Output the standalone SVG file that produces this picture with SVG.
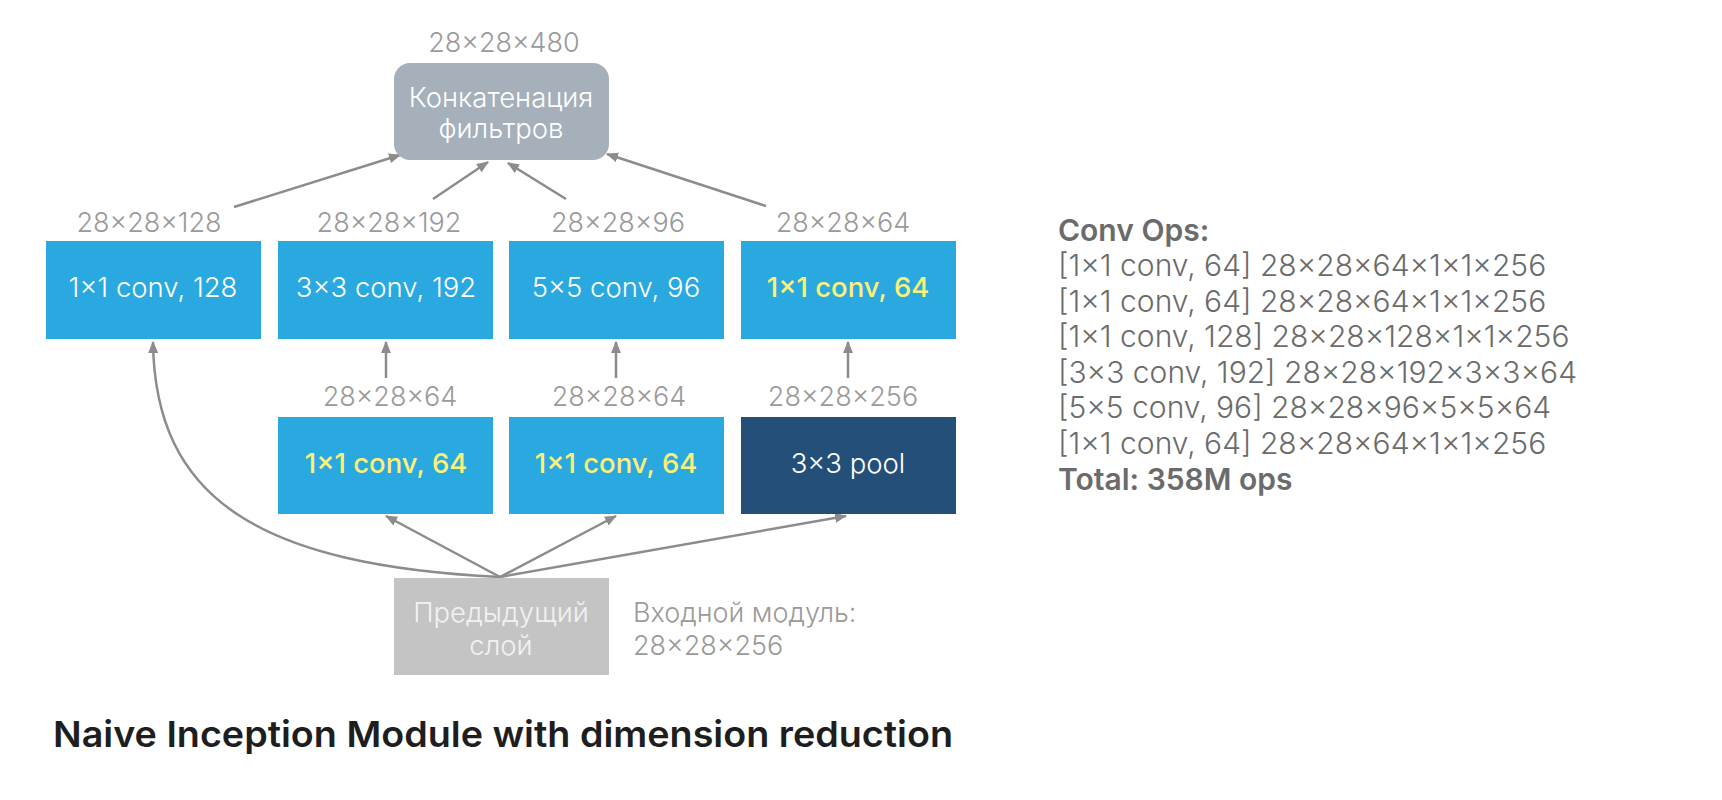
<svg xmlns="http://www.w3.org/2000/svg" width="1722" height="800" viewBox="0 0 1722 800">
<defs>
<marker id="ah" viewBox="0 0 12 10" refX="11" refY="5" markerWidth="12" markerHeight="10" markerUnits="userSpaceOnUse" orient="auto">
<path d="M0,0 L12,5 L0,10 Z" fill="#8c8c8c"/>
</marker>
<style>
text{font-family:Inter,"Noto Sans","Liberation Sans",sans-serif;}
.lbl{font-size:27px;font-weight:300;fill:#9a9a9a;text-anchor:middle;}
.bt{font-size:27.5px;font-weight:300;fill:#ffffff;text-anchor:middle;}
.yt{font-size:27.5px;font-weight:500;fill:#fbf07a;text-anchor:middle;}
.blue{fill:#29a9e0;}
.edge{fill:none;stroke:#8c8c8c;stroke-width:2.5;marker-end:url(#ah);}
.ops{font-size:30px;font-weight:300;fill:#6b6b6b;}
.opsb{font-size:30px;font-weight:600;fill:#6b6b6b;}
</style>
</defs>
<rect width="1722" height="800" fill="#ffffff"/>

<g id="connectors">
<path class="edge" d="M500,577 C260,565 155,500 153,342"/>
<path class="edge" d="M500,577 L386,516"/>
<path class="edge" d="M500,577 L616,516"/>
<path class="edge" d="M500,577 L846,516"/>
<path class="edge" d="M386,378 L386,342"/>
<path class="edge" d="M616,378 L616,342"/>
<path class="edge" d="M848,378 L848,342"/>
<path class="edge" d="M234,207 L400,155"/>
<path class="edge" d="M433,199 L488,162"/>
<path class="edge" d="M566,199 L508,163"/>
<path class="edge" d="M766,206 L607,154"/>
</g>

<g id="concat">
<text class="lbl" x="504" y="52">28×28×480</text>
<rect x="394" y="63" width="215" height="97" rx="16" fill="#a5b0ba"/>
<text class="bt" x="501" y="107" style="font-size:27.5px">Конкатенация</text>
<text class="bt" x="501" y="138" style="font-size:27.5px">фильтров</text>
</g>

<g id="conv1x1_128">
<text class="lbl" x="149" y="232">28×28×128</text>
<rect class="blue" x="46" y="241" width="215" height="98"/>
<text class="bt" x="153" y="297">1×1 conv, 128</text>
</g>
<g id="conv3x3_192">
<text class="lbl" x="389" y="232">28×28×192</text>
<rect class="blue" x="278" y="241" width="215" height="98"/>
<text class="bt" x="386" y="297">3×3 conv, 192</text>
</g>
<g id="conv5x5_96">
<text class="lbl" x="618" y="232">28×28×96</text>
<rect class="blue" x="509" y="241" width="215" height="98"/>
<text class="bt" x="616" y="297">5×5 conv, 96</text>
</g>
<g id="conv1x1_64_top">
<text class="lbl" x="843" y="232">28×28×64</text>
<rect class="blue" x="741" y="241" width="215" height="98"/>
<text class="yt" x="848" y="297">1×1 conv, 64</text>
</g>

<g id="conv1x1_64_a">
<text class="lbl" x="390" y="406">28×28×64</text>
<rect class="blue" x="278" y="417" width="215" height="97"/>
<text class="yt" x="386" y="473">1×1 conv, 64</text>
</g>
<g id="conv1x1_64_b">
<text class="lbl" x="619" y="406">28×28×64</text>
<rect class="blue" x="509" y="417" width="215" height="97"/>
<text class="yt" x="616" y="473">1×1 conv, 64</text>
</g>
<g id="pool">
<text class="lbl" x="843" y="406">28×28×256</text>
<rect x="741" y="417" width="215" height="97" fill="#244f78"/>
<text class="bt" x="848" y="473">3×3 pool</text>
</g>

<g id="prev">
<rect x="394" y="578" width="215" height="97" fill="#c4c4c4"/>
<text class="bt" x="501" y="622" style="fill:#f2f2f2">Предыдущий</text>
<text class="bt" x="501" y="655" style="fill:#f2f2f2">слой</text>
<text class="lbl" x="633" y="622" style="text-anchor:start">Входной модуль:</text>
<text class="lbl" x="633" y="655" style="text-anchor:start">28×28×256</text>
</g>

<g id="ops">
<text class="opsb" x="1058" y="241">Conv Ops:</text>
<text class="ops" x="1058" y="276">[1×1 conv, 64] 28×28×64×1×1×256</text>
<text class="ops" x="1058" y="312">[1×1 conv, 64] 28×28×64×1×1×256</text>
<text class="ops" x="1058" y="347">[1×1 conv, 128] 28×28×128×1×1×256</text>
<text class="ops" x="1058" y="383">[3×3 conv, 192] 28×28×192×3×3×64</text>
<text class="ops" x="1058" y="418">[5×5 conv, 96] 28×28×96×5×5×64</text>
<text class="ops" x="1058" y="454">[1×1 conv, 64] 28×28×64×1×1×256</text>
<text class="opsb" x="1058" y="490">Total: 358M ops</text>
</g>

<g id="title">
<text x="53" y="747" style="font-size:36px;font-weight:600;fill:#1e1e1e" textLength="900" lengthAdjust="spacingAndGlyphs">Naive Inception Module with dimension reduction</text>
</g>
</svg>
